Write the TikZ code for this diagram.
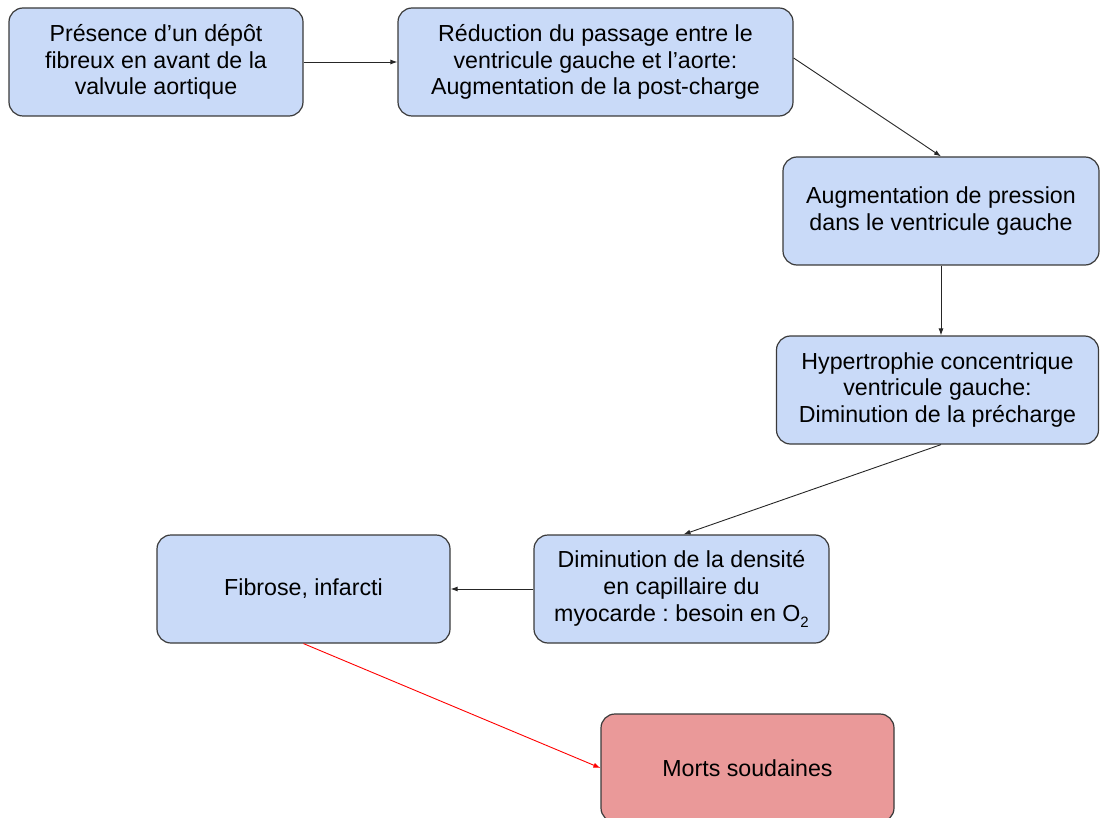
\documentclass[tikz,border=0pt]{standalone}
\usepackage{fontspec}
\setmainfont{Liberation Sans}
\usetikzlibrary{arrows.meta}
\definecolor{boxblue}{HTML}{C9DAF8}
\definecolor{boxred}{HTML}{EA9999}
\definecolor{boxline}{HTML}{3A3A3A}
\newcommand{\lowsub}[1]{\raisebox{-6pt}{\fontsize{15}{15}\selectfont #1}}
\begin{document}
\begin{tikzpicture}[x=1pt,y=-1pt,
  flowbox/.style={draw=boxline, line width=1.2pt, fill=boxblue, rounded corners=14pt,
    align=center, inner sep=0pt, minimum height=108pt,
    font=\fontsize{23.2}{26.8}\selectfont\frenchspacing, text=black},
  redbox/.style={flowbox, fill=boxred},
  conn/.style={line width=0.9pt, draw=black!85, -{Latex[length=7pt,width=5pt]}},
  redconn/.style={line width=0.9pt, draw=red, -{Latex[length=7pt,width=5pt]}}]
\useasboundingbox (0,0) rectangle (1100,818);
\node[flowbox, minimum width=294pt] (A) at (156,62) {Présence d’un dépôt\\fibreux en avant de la\\valvule aortique};
\node[flowbox, minimum width=395pt] (B) at (595.5,62) {Réduction du passage entre le\\ventricule gauche et l’aorte:\\Augmentation de la post-charge};
\node[flowbox, minimum width=316pt] (C) at (941,211) {Augmentation de pression\\dans le ventricule gauche};
\node[flowbox, minimum width=322pt] (D) at (937.5,390) {Hypertrophie concentrique\\ventricule gauche:\\Diminution de la précharge};
\node[flowbox, minimum width=295pt] (E) at (681.5,589) {Diminution de la densité\\en capillaire du\\myocarde : besoin en O\lowsub{2}};
\node[flowbox, minimum width=293pt] (F) at (303.5,589) {Fibrose, infarcti};
\node[redbox, minimum width=293pt] (G) at (747.5,768) {Morts soudaines};
\draw[conn] (A.east) -- (B.west);
\draw[conn] ([yshift=4pt]B.east) -- (C.north);
\draw[conn] (C.south) -- (C.south |- D.north);
\draw[conn] (C.south |- D.south) -- ([xshift=2pt]E.north);
\draw[conn] (E.west) -- (F.east);
\draw[redconn] (F.south) -- (G.west);
\end{tikzpicture}
\end{document}
